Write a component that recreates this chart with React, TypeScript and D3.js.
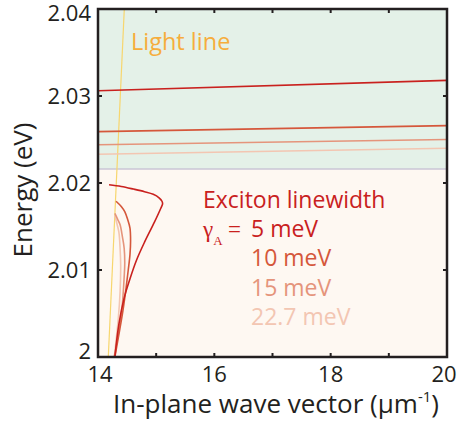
import React from "react";
import * as d3 from "d3";

// widths of the exciton line (meV) and colours
const gammas = ["5 meV", "10 meV", "15 meV", "22.7 meV"];
const colors = ["#c9211e", "#d5573b", "#e5947b", "#f3c6b2"];

// upper branch: energy at k = 14 and k = 20
const upperK = [14, 20];
const upperE = [
  [2.0306, 2.0318],
  [2.0259, 2.0266],
  [2.0244, 2.025],
  [2.0233, 2.024],
];

// lower branch (k, E)
const lowerK = [
  [14.19, 14.4, 14.61, 14.8, 14.95, 15.05, 15.1, 15.11, 15.08, 14.97, 14.8, 14.66, 14.55, 14.45, 14.36, 14.29],
  [14.31, 14.4, 14.46, 14.51, 14.55, 14.56, 14.55, 14.52, 14.48, 14.43, 14.37, 14.29],
  [14.29, 14.34, 14.38, 14.42, 14.45, 14.46, 14.45, 14.41, 14.35, 14.28],
  [14.29, 14.33, 14.36, 14.38, 14.39, 14.38, 14.35, 14.28],
];
const lowerE = [
  [2.0198, 2.0196, 2.0193, 2.019, 2.0187, 2.0183, 2.0179, 2.0176, 2.0171, 2.0155, 2.0132, 2.0111, 2.009, 2.0068, 2.0038, 2.0],
  [2.0179, 2.0173, 2.0167, 2.0158, 2.0148, 2.0133, 2.0118, 2.01, 2.0078, 2.0054, 2.003, 2.0],
  [2.0165, 2.0158, 2.0152, 2.0138, 2.0125, 2.0108, 2.0092, 2.0054, 2.0027, 2.0],
  [2.0163, 2.0152, 2.0143, 2.0125, 2.0105, 2.0075, 2.0045, 2.0],
];

// light line end points
const lightK = [14.177, 14.452];
const lightE = [2.0, 2.04];

const boundaryE = 2.0216;
const xTicks = [14, 15, 16, 17, 18, 19, 20];
const xLabels = [14, 16, 18, 20];
const yTicks = [2.0, 2.01, 2.02, 2.03, 2.04];

export default function App() {
  const width = 458,
    height = 424;
  const left = 98,
    right = 447,
    top = 9,
    bottom = 357;

  const x = d3.scaleLinear().domain([14, 20]).range([left, right]);
  const y = d3.scaleLinear().domain([2.0, 2.04]).range([bottom, top]);

  const line = d3
    .line<[number, number]>()
    .x((d) => x(d[0]))
    .y((d) => y(d[1]))
    .curve(d3.curveCatmullRom.alpha(0.5));

  const font = "'Open Sans', sans-serif";
  const fmt = d3.format(".2f");

  return (
    <svg
      width={width}
      height={height}
      style={{ position: "absolute", left: 0, top: 0 }}
      fontFamily={font}
    >
      <defs>
        <clipPath id="plot">
          <rect x={left} y={top} width={right - left} height={bottom - top} />
        </clipPath>
      </defs>

      {/* backgrounds */}
      <rect x={left} y={top} width={right - left} height={y(boundaryE) - top} fill="#e4f1e8" />
      <rect x={left} y={y(boundaryE)} width={right - left} height={bottom - y(boundaryE)} fill="#fef8f2" />
      <line x1={left} x2={right} y1={y(boundaryE)} y2={y(boundaryE)} stroke="#cac6d6" strokeWidth={1.5} />

      <g clipPath="url(#plot)">
        {/* light line */}
        <line
          x1={x(lightK[0])}
          x2={x(lightK[1])}
          y1={y(lightE[0])}
          y2={y(lightE[1])}
          stroke="#f7d66e"
          strokeWidth={1.2}
        />
        {/* upper branches, drawn light first */}
        {upperE
          .map((es, i) => (
            <path
              key={"u" + i}
              d={line(upperK.map((k, j) => [k, es[j]] as [number, number])) || ""}
              fill="none"
              stroke={colors[i]}
              strokeWidth={1.6}
            />
          ))
          .reverse()}
        {/* lower branches */}
        {lowerK
          .map((ks, i) => (
            <path
              key={"l" + i}
              d={line(ks.map((k, j) => [k, lowerE[i][j]] as [number, number])) || ""}
              fill="none"
              stroke={colors[i]}
              strokeWidth={1.6}
            />
          ))
          .reverse()}
      </g>

      {/* frame */}
      <rect x={left} y={top} width={right - left} height={bottom - top} fill="none" stroke="#231f20" strokeWidth={2.5} />

      {/* x ticks */}
      {xTicks.map((t) => (
        <g key={"x" + t}>
          <line x1={x(t)} x2={x(t)} y1={bottom} y2={bottom - 4} stroke="#231f20" strokeWidth={2} />
          <line x1={x(t)} x2={x(t)} y1={top} y2={top + 4} stroke="#231f20" strokeWidth={2} />
        </g>
      ))}
      {xLabels.map((t) => (
        <text
          key={"xl" + t}
          x={t === 20 ? x(t) - 3 : t === 14 ? x(t) + 2 : x(t)}
          y={382}
          textAnchor="middle"
          fontSize={22}
          fill="#231f20"
        >
          {t}
        </text>
      ))}

      {/* y ticks */}
      {yTicks.map((t) => (
        <g key={"y" + t}>
          <line x1={left} x2={left + 4} y1={y(t)} y2={y(t)} stroke="#231f20" strokeWidth={2} />
          <line x1={right} x2={right - 4} y1={y(t)} y2={y(t)} stroke="#231f20" strokeWidth={2} />
          <text
            x={91}
            y={t === 2.04 ? 21 : t === 2.0 ? 359 : y(t) + 8}
            textAnchor="end"
            fontSize={22}
            fill="#231f20"
          >
            {t === 2.0 ? "2" : fmt(t)}
          </text>
        </g>
      ))}

      {/* axis titles */}
      <text x={276} y={413} textAnchor="middle" fontSize={26} fill="#231f20">
        In-plane wave vector (μm
        <tspan fontSize={15} dy={-11}>-1</tspan>
        <tspan dy={11}>)</tspan>
      </text>
      <text
        transform={`translate(32,190) rotate(-90)`}
        textAnchor="middle"
        fontSize={26}
        fill="#231f20"
      >
        Energy (eV)
      </text>

      {/* annotations */}
      <text x={131} y={50} fontSize={23.5} fill="#f6ad3c">
        Light line
      </text>
      <text x={203} y={208} fontSize={23} fill={colors[0]}>
        Exciton linewidth
      </text>
      <text x={203} y={237} fontSize={23} fill={colors[0]} fontFamily="'Liberation Serif', serif">
        γ
        <tspan fontSize={13} dy={8}>A</tspan>
      </text>
      <text x={228} y={237} fontSize={23} fill={colors[0]} fontFamily="'Liberation Serif', serif">
        =
      </text>
      {gammas.map((g, i) => (
        <text key={g} x={251} y={237 + i * 29.3} fontSize={23} fill={colors[i]}>
          {g}
        </text>
      ))}
    </svg>
  );
}
